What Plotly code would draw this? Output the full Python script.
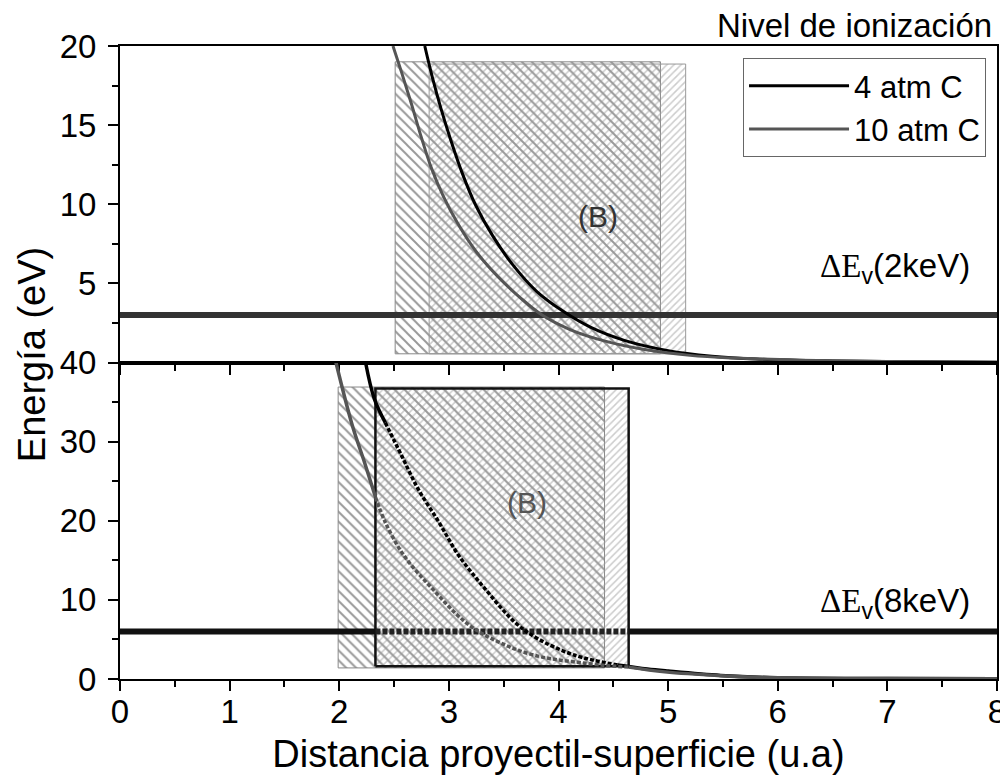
import numpy as np
import plotly.graph_objects as go
from plotly.subplots import make_subplots

# curves: x = distance (u.a), y = energy (eV)
# top panel (2 keV)
top_4atm_x = [2.78, 2.85, 2.93, 3.02, 3.12, 3.24, 3.40, 3.58, 3.80, 4.05, 4.30, 4.60, 5.00, 5.40, 5.80, 6.50, 7.20, 8.00]
top_4atm_y = [20.0, 18.0, 16.0, 14.0, 12.0, 10.0, 8.0, 6.2, 4.5, 3.2, 2.2, 1.4, 0.75, 0.4, 0.22, 0.1, 0.05, 0.02]
top_10atm_x = [2.49, 2.57, 2.66, 2.75, 2.84, 2.95, 3.08, 3.25, 3.45, 3.65, 3.85, 4.10, 4.40, 4.80, 5.20, 5.60, 6.20, 7.00, 8.00]
top_10atm_y = [20.0, 18.3, 16.3, 14.2, 12.3, 10.5, 8.8, 7.0, 5.4, 4.1, 3.0, 2.1, 1.4, 0.8, 0.45, 0.28, 0.15, 0.06, 0.02]

# bottom panel (8 keV)
bot_4atm_x = [2.24, 2.32, 2.42, 2.57, 2.72, 2.91, 3.09, 3.33, 3.60, 3.81, 4.15, 4.54, 4.81, 5.00, 5.48, 6.00, 7.00, 8.00]
bot_4atm_y = [40.0, 35.4, 32.4, 28.2, 24.0, 19.8, 15.6, 11.4, 7.2, 5.1, 3.0, 1.77, 1.26, 1.0, 0.45, 0.15, 0.05, 0.02]
bot_10atm_x = [1.97, 2.12, 2.23, 2.33, 2.42, 2.59, 2.85, 3.15, 3.39, 3.78, 4.39, 4.64, 4.97, 5.48, 6.00, 7.00, 8.00]
bot_10atm_y = [40.0, 32.0, 27.4, 23.0, 19.8, 15.6, 11.4, 7.2, 5.1, 3.0, 1.77, 1.5, 0.9, 0.42, 0.15, 0.05, 0.02]

# ionisation levels (eV)
dEv_2kev = 3.0
dEv_8kev = 6.0
x_span = [0, 8]

# hatched regions: [x0, x1], [y0, y1]
top_reg_a = ([2.51, 4.93], [0.55, 19.0])   # "\\" hatch
top_reg_b = ([2.82, 5.16], [0.55, 18.86])  # "//" hatch
bot_reg_a = ([1.99, 4.42], [1.4, 36.9])
bot_reg_b = ([2.33, 4.64], [1.6, 36.7])

FONT = "Liberation Sans, Arial, sans-serif"

fig = make_subplots(rows=2, cols=1, shared_xaxes=True, vertical_spacing=0)


def rect(reg, shape, size, sol, fg, border, bw, row):
    (x0, x1), (y0, y1) = reg
    fig.add_trace(go.Scatter(
        x=[x0, x1, x1, x0, x0], y=[y0, y0, y1, y1, y0],
        mode="lines", fill="toself", fillcolor="rgba(255,255,255,0)",
        fillpattern=dict(shape=shape, size=size, solidity=sol, fgcolor=fg,
                         bgcolor="rgba(255,255,255,0)"),
        line=dict(color=border, width=bw), showlegend=False, hoverinfo="skip"),
        row=row, col=1)


rect(top_reg_a, "\\", 7, 0.28, "#333", "#888", 1, 1)
rect(top_reg_b, "/", 5, 0.3, "#999", "#999", 1, 1)
rect(bot_reg_a, "\\", 7, 0.28, "#333", "#888", 1, 2)
rect(bot_reg_b, "/", 5, 0.3, "#999", "#111", 2.5, 2)

# top panel: level line and curves
fig.add_trace(go.Scatter(x=x_span, y=[dEv_2kev] * 2, mode="lines",
                         line=dict(color="#333", width=6), showlegend=False), row=1, col=1)
fig.add_trace(go.Scatter(x=top_4atm_x, y=top_4atm_y, mode="lines", name="4 atm C",
                         line=dict(color="#000", width=3, shape="spline")), row=1, col=1)
fig.add_trace(go.Scatter(x=top_10atm_x, y=top_10atm_y, mode="lines", name="10 atm C",
                         line=dict(color="#555", width=3, shape="spline")), row=1, col=1)

# bottom panel: parts inside the framed region look dotted
lo, hi = bot_reg_b[0]
fig.add_trace(go.Scatter(x=[x_span[0], lo], y=[dEv_8kev] * 2, mode="lines",
                         line=dict(color="#111", width=6), showlegend=False), row=2, col=1)
fig.add_trace(go.Scatter(x=[lo, hi], y=[dEv_8kev] * 2, mode="lines",
                         line=dict(color="#222", width=6, dash="5px,2px"), showlegend=False), row=2, col=1)
fig.add_trace(go.Scatter(x=[hi, x_span[1]], y=[dEv_8kev] * 2, mode="lines",
                         line=dict(color="#111", width=6), showlegend=False), row=2, col=1)

for cx, cy, col in [(bot_4atm_x, bot_4atm_y, "#000"), (bot_10atm_x, bot_10atm_y, "#555")]:
    cx, cy = np.array(cx), np.array(cy)
    idx = np.where((cx >= lo - 0.01) & (cx <= hi + 0.01))[0]
    a, b = idx[0], idx[-1]
    parts = [(slice(0, a + 1), "solid"), (slice(a, b + 1), "4px,2px"), (slice(b, None), "solid")]
    for sl, dash in parts:
        fig.add_trace(go.Scatter(x=cx[sl], y=cy[sl], mode="lines", showlegend=False,
                                 line=dict(color=col, width=3.5, dash=dash, shape="spline")),
                      row=2, col=1)

# axes
axis_common = dict(showline=True, linewidth=2, linecolor="black", mirror=True, automargin=False,
                   tickfont=dict(family=FONT, size=33, color="black"),
                   tickcolor="black", tickwidth=2, zeroline=False, showgrid=False)
fig.update_xaxes(range=[0, 8], dtick=1, ticks="outside", ticklen=10, ticklabeloverflow="allow",
                 ticklabelstandoff=-8,
                 minor=dict(ticks="outside", dtick=0.5, ticklen=6, tickcolor="black", tickwidth=2),
                 **axis_common)
fig.update_xaxes(title=dict(text="Distancia proyectil-superficie (u.a)",
                            font=dict(family=FONT, size=38, color="black"), standoff=12),
                 row=2, col=1)
fig.update_yaxes(range=[0, 20], tickvals=[5, 10, 15, 20], ticks="outside", ticklen=10,
                 ticklabelstandoff=5,
                 minor=dict(ticks="outside", tickmode="linear", tick0=0, dtick=2.5, ticklen=6,
                            tickcolor="black", tickwidth=2),
                 row=1, col=1, **axis_common)
fig.update_yaxes(range=[0, 40], dtick=10, ticks="outside", ticklen=10, ticklabelstandoff=5,
                 minor=dict(ticks="outside", dtick=5, ticklen=6, tickcolor="black", tickwidth=2),
                 row=2, col=1, **axis_common)

# texts
ann_font = dict(family=FONT, size=33, color="black")
fig.add_annotation(text="Nivel de ionización", xref="paper", yref="paper", x=0.997, y=1.0,
                   xanchor="right", yanchor="bottom", showarrow=False, font=dict(family=FONT, size=33))
fig.add_annotation(text="Energía (eV)", xref="paper", yref="paper", x=-0.1, y=0.512,
                   xanchor="center", yanchor="middle",
                   textangle=-90, showarrow=False, font=dict(family=FONT, size=38, color="black"))
delta = '<span style="font-family:Liberation Serif">ΔE</span><sub>v</sub>'
fig.add_annotation(text=delta + "(2keV)", x=7.77, y=6.0, xanchor="right", showarrow=False,
                   font=ann_font, row=1, col=1)
fig.add_annotation(text=delta + "(8keV)", x=7.77, y=9.6, xanchor="right", showarrow=False,
                   font=ann_font, row=2, col=1)
fig.add_annotation(text="(B)", x=4.36, y=9.2, showarrow=False,
                   font=dict(family=FONT, size=30, color="#333"), row=1, col=1)
fig.add_annotation(text="(B)", x=3.71, y=22.3, showarrow=False,
                   font=dict(family=FONT, size=30, color="#555"), row=2, col=1)

# page body has an 8px margin, so the figure is drawn 8px smaller
fig.update_layout(
    width=1000, height=768,
    margin=dict(l=112, r=11, t=38, b=97),
    paper_bgcolor="white", plot_bgcolor="white",
    font=dict(family=FONT, color="black"),
    legend=dict(x=0.9875, xanchor="right", y=0.981, yanchor="top",
                bordercolor="#666", borderwidth=1, bgcolor="white",
                font=dict(family=FONT, size=31, color="black"), itemwidth=100,
                tracegroupgap=0),
)

fig.write_html("out.html")
